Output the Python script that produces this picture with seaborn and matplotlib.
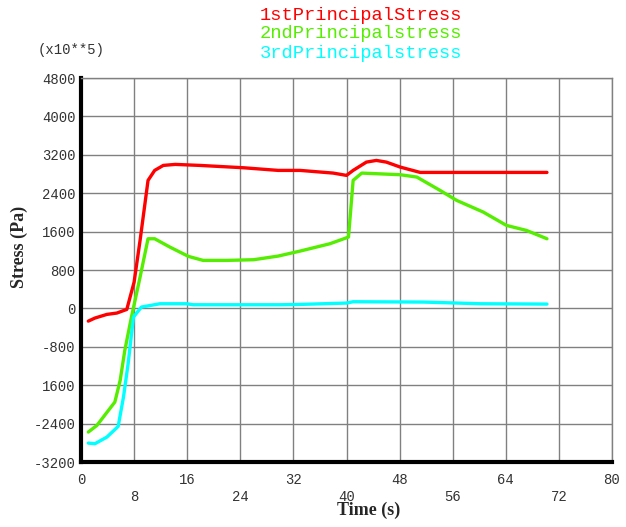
import matplotlib
matplotlib.use("Agg")
import matplotlib.pyplot as plt
import matplotlib.transforms as mtransforms
import numpy as np
import pandas as pd
import seaborn as sns

# Principal stress histories, stress in units of 1e5 Pa
t1 = [1.1, 2.1, 3.9, 5.4, 6.9, 8.0, 8.9, 10.1, 11.1, 12.4, 14.2, 17.9, 24.5, 29.7,
      33.0, 38.0, 40.0, 41.0, 43.0, 44.5, 46.0, 48.1, 51.1, 70.2]
s1 = [-265, -201, -125, -97, -21, 548, 1417, 2667, 2875, 2979, 3000, 2979, 2930, 2875,
      2875, 2819, 2771, 2875, 3048, 3083, 3048, 2944, 2833, 2833]

t2 = [1.1, 2.4, 5.1, 5.9, 6.6, 7.6, 8.9, 10.1, 11.1, 13.4, 16.2, 18.4, 21.9, 26.0, 29.7,
      33.0, 37.5, 40.3, 41.0, 42.3, 48.1, 50.6, 54.1, 56.6, 60.6, 64.1, 67.1, 70.2]
s2 = [-2576, -2437, -1951, -1500, -875, -181, 652, 1451, 1451, 1277, 1083, 1000, 1000, 1014, 1090,
      1194, 1347, 1486, 2667, 2819, 2785, 2736, 2458, 2250, 2007, 1729, 1625, 1451]

t3 = [1.1, 2.1, 3.9, 5.6, 6.4, 7.1, 7.9, 9.1, 11.9, 15.9, 16.9, 30.0,
      33.0, 40.0, 41.0, 51.6, 60.1, 70.2]
s3 = [-2806, -2819, -2681, -2458, -1847, -1153, -181, 28, 97, 97, 76, 76,
      83, 111, 139, 132, 97, 90]

series_names = ["1stPrincipalStress", "2ndPrincipalstress", "3rdPrincipalstress"]
series_colors = ["#ff0000", "#55ee00", "#00ffff"]

x_ticks = list(range(0, 81, 8))
y_ticks = list(range(-3200, 4801, 800))
y_tick_labels = ["-3200", "-2400", "1600", "-800", "0", "800", "1600",
                 "2400", "3200", "4000", "4800"]

frames = []
for name, t, s in zip(series_names, [t1, t2, t3], [s1, s2, s3]):
    frames.append(pd.DataFrame({"time": t, "stress": s, "series": name}))
df = pd.concat(frames, ignore_index=True)

sns.set_style("white")
mono = ["Liberation Mono", "DejaVu Sans Mono"]
serif = ["Liberation Serif", "DejaVu Serif"]

fig = plt.figure(figsize=(6.26, 5.27), dpi=100)
ax = fig.add_axes([81 / 626, 1 - 462 / 527, (612 - 81) / 626, (462 - 78) / 527])

sns.lineplot(data=df, x="time", y="stress", hue="series", hue_order=series_names,
             palette=series_colors, estimator=None, sort=False, linewidth=2.4,
             legend=False, ax=ax, zorder=3)

ax.set_xlim(0, 80)
ax.set_ylim(-3200, 4800)
ax.set_xticks(x_ticks)
ax.set_yticks(y_ticks)
ax.set_xticklabels([str(v) if i % 2 == 0 else "\n" + str(v)
                    for i, v in enumerate(x_ticks)],
                   family=mono, fontsize=10, color="#333333", linespacing=1.25)
ax.set_yticklabels(y_tick_labels, family=mono, fontsize=10, color="#333333")

# shift x tick labels slightly right of their ticks
offset = mtransforms.ScaledTranslation(4 / 100, 0, fig.dpi_scale_trans)
for lab in ax.get_xticklabels():
    lab.set_transform(lab.get_transform() + offset)

ax.grid(True, color="#808080", linewidth=1.0, zorder=0)
ax.tick_params(axis="x", direction="out", length=6, width=1, color="#808080", pad=2)
ax.tick_params(axis="y", direction="out", length=3, width=1, color="#808080", pad=1)

for side in ["left", "bottom"]:
    ax.spines[side].set_color("black")
    ax.spines[side].set_linewidth(3)
for side in ["top", "right"]:
    ax.spines[side].set_color("#808080")
    ax.spines[side].set_linewidth(1)

ax.set_xlabel("")
ax.set_ylabel("")
fig.text(369 / 626, 1 - 510 / 527, "Time (s)", family=serif, fontweight="bold",
         fontsize=13, ha="center", va="center")
fig.text(19 / 626, 1 - 247 / 527, "Stress (Pa)", family=serif, fontweight="bold",
         fontsize=13, ha="center", va="center", rotation=90)
fig.text(38 / 626, 1 - 50 / 527, "(x10**5)", family=mono, fontsize=10,
         color="#333333", ha="left", va="center")

for i, (name, col) in enumerate(zip(series_names, series_colors)):
    fig.text(361 / 626, 1 - (15 + 19 * i) / 527, name, family=mono, fontsize=13.5,
             color=col, ha="center", va="center")

fig.savefig("out.png", dpi=100)
